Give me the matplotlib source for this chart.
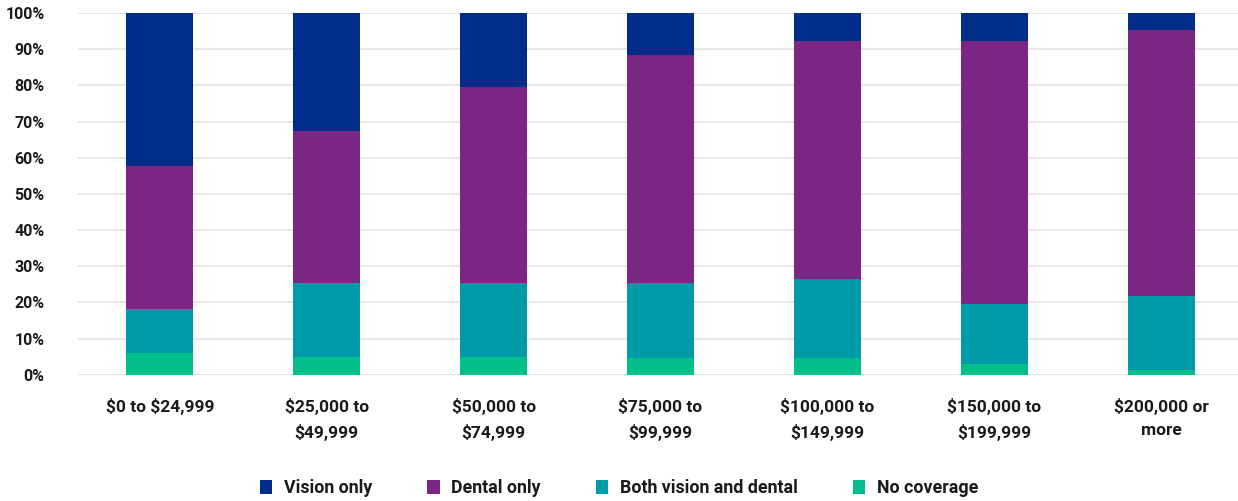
import matplotlib.pyplot as plt
from matplotlib.ticker import PercentFormatter

income_groups = ['\\$0 to \\$24,999', '\\$25,000 to\n\\$49,999', '\\$50,000 to\n\\$74,999',
                 '\\$75,000 to\n\\$99,999', '\\$100,000 to\n\\$149,999', '\\$150,000 to\n\\$199,999',
                 '\\$200,000 or\nmore']

# доли по группам дохода, в процентах (снизу вверх)
no_coverage = [6.1, 4.9, 4.9, 4.6, 4.6, 3.0, 1.3]
both_vision_dental = [12.1, 20.5, 20.5, 20.8, 21.9, 16.5, 20.4]
dental_only = [39.5, 42.0, 54.1, 63.0, 65.8, 72.8, 73.6]
vision_only = [42.3, 32.6, 20.5, 11.6, 7.7, 7.7, 4.7]

series = [
    ('No coverage', no_coverage, '#00BF8B'),
    ('Both vision and dental', both_vision_dental, '#0099A8'),
    ('Dental only', dental_only, '#7A2682'),
    ('Vision only', vision_only, '#002D89'),
]

plt.rcParams['font.family'] = ['Roboto', 'DejaVu Sans']

fig = plt.figure(figsize=(12.38, 5.01), dpi=100)
ax = fig.add_axes([0.063, 0.252, 0.937, 0.722])

x = range(len(income_groups))
bottom = [0.0] * len(income_groups)
handles = {}
for name, vals, color in series:
    bars = ax.bar(x, vals, width=0.4, bottom=bottom, color=color, label=name, zorder=3)
    handles[name] = bars
    bottom = [b + v for b, v in zip(bottom, vals)]

ax.set_ylim(0, 100)
ax.set_xlim(-0.49, 6.46)
ax.set_yticks(range(0, 101, 10))
ax.yaxis.set_major_formatter(PercentFormatter(decimals=0))
ax.grid(axis='y', color='#E3E3E3', linewidth=1.2, zorder=0)
for s in ax.spines.values():
    s.set_visible(False)
ax.tick_params(axis='y', length=0, pad=24, labelsize=11.5)
ax.tick_params(axis='x', length=0, pad=17, labelsize=12.5)
ax.set_xticks(list(x))
ax.set_xticklabels(income_groups, linespacing=1.6)
for lbl in ax.get_xticklabels() + ax.get_yticklabels():
    lbl.set_fontweight('bold')
    lbl.set_color('#1A1A1A')

order = ['Vision only', 'Dental only', 'Both vision and dental', 'No coverage']
leg = fig.legend([handles[n] for n in order], order, loc='center', bbox_to_anchor=(0.5, 0.025),
                 ncol=4, frameon=False, handlelength=0.7, handleheight=0.85, handletextpad=0.65,
                 columnspacing=3.1, prop={'weight': 'bold', 'size': 12.8})
for t in leg.get_texts():
    t.set_color('#1A1A1A')

fig.savefig('out.png', dpi=100)
